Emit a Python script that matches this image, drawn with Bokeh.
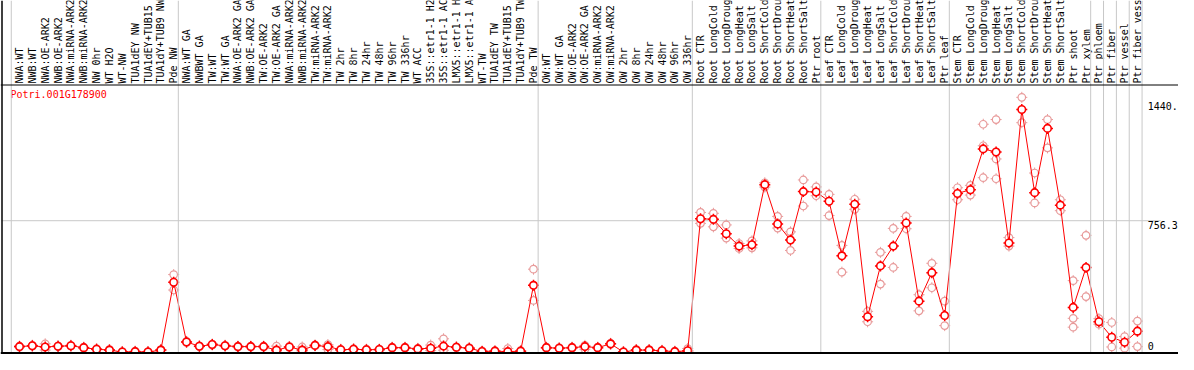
import math
from bokeh.plotting import figure
from bokeh.models import Range1d, Span
from bokeh.embed import file_html
from bokeh.resources import INLINE
from bokeh.core.properties import value

# ---------------- data ----------------
gene = "Potri.001G178900"

labels = [
    # group 1
    "NWA:WT", "NWB:WT", "NWA:OE-ARK2", "NWB:OE-ARK2", "NWA:miRNA-ARK2", "NWB:miRNA-ARK2",
    "NW 0hr", "WT H2O", "WT-NW", "TUA1dEY NW", "TUA1dEY+TUB15", "TUA1dY+TUB9 NW", "Pde NW",
    # group 2
    "NWA:WT GA", "NWBWT GA", "TW:WT", "TW:WT GA", "NWA:OE-ARK2 GA", "NWB:OE-ARK2 GA",
    "TW:OE-ARK2", "TW:OE-ARK2 GA", "NWA:miRNA-ARK2", "NWB:miRNA-ARK2", "TW:miRNA-ARK2",
    "TW:miRNA-ARK2", "TW 2hr", "TW 8hr", "TW 24hr", "TW 48hr", "TW 96hr", "TW 336hr",
    "WT ACC", "35S::etr1-1 H2", "35S::etr1-1 AC", "LMX5::etr1-1 H", "LMX5::etr1-1 A",
    "WT-TW", "TUA1dEY TW", "TUA1dEY+TUB15", "TUA1dY+TUB9 TW", "Pde TW",
    # group 3
    "OW:WT", "OW:WT GA", "OW:OE-ARK2", "OW:OE-ARK2 GA", "OW:miRNA-ARK2", "OW:miRNA-ARK2",
    "OW 2hr", "OW 8hr", "OW 24hr", "OW 48hr", "OW 96hr", "OW 336hr",
    # root
    "Root CTR", "Root LongCold", "Root LongDroug", "Root LongHeat", "Root LongSalt",
    "Root ShortCold", "Root ShortDrou", "Root ShortHeat", "Root ShortSalt", "Ptr root",
    # leaf
    "Leaf CTR", "Leaf LongCold", "Leaf LongDroug", "Leaf LongHeat", "Leaf LongSalt",
    "Leaf ShortCold", "Leaf ShortDrou", "Leaf ShortHeat", "Leaf ShortSalt", "Ptr leaf",
    # stem
    "Stem CTR", "Stem LongCold", "Stem LongDroug", "Stem LongHeat", "Stem LongSalt",
    "Stem ShortCold", "Stem ShortDrou", "Stem ShortHeat", "Stem ShortSalt", "Ptr shoot", "Ptr xylem",
    # single tissues
    "Ptr phloem", "Ptr fiber", "Ptr vessel", "Ptr fiber vess",
]

group_starts = [0, 13, 41, 53, 63, 73, 84, 85, 86, 87]

means = [
    31, 36, 29, 33, 36, 25, 16, 11, 0, 2, 0, 11, 402,
    58, 33, 43, 36, 31, 31, 31, 11, 29, 11, 38, 31, 13, 16, 13, 14, 25, 25, 18, 22, 34, 27, 22, 3, 5, 2, 5, 384,
    25, 22, 25, 31, 25, 47, 0, 11, 11, 7, 2, 7,
    768, 764, 681, 610, 618, 964, 737, 645, 924, 922,
    868, 554, 851, 203, 496, 610, 743, 293, 457, 210,
    913, 935, 1170, 1152, 628, 1397, 918, 1288, 846, 257, 487,
    174, 85, 56, 120,
]

rep_high = [
    34, 39, 47, 36, 39, 28, 19, 14, 3, 5, 3, 14, 446,
    61, 36, 46, 39, 34, 34, 34, 34, 32, 29, 41, 43, 16, 19, 16, 17, 28, 28, 21, 40, 76, 30, 25, 6, 8, 20, 8, 477,
    28, 25, 28, 38, 28, 50, 3, 14, 14, 10, 5, 20,
    804, 799, 732, 625, 640, 975, 781, 692, 991, 951,
    908, 614, 880, 234, 574, 712, 781, 330, 511, 293,
    946, 960, 1312, 1339, 659, 1467, 1031, 1339, 877, 411, 672,
    192, 170, 89, 178,
]

rep_low = [
    28, 33, 11, 30, 33, 22, 13, 8, 0, 0, 0, 8, 357,
    55, 30, 40, 33, 28, 28, 28, 5, 26, 5, 35, 14, 10, 13, 10, 11, 22, 22, 15, 8, 10, 24, 19, 0, 2, 0, 2, 297,
    22, 19, 22, 16, 22, 44, 0, 8, 8, 4, 0, 3,
    741, 721, 656, 596, 600, 950, 714, 585, 841, 900,
    786, 460, 822, 174, 391, 487, 710, 237, 370, 152,
    877, 904, 1004, 998, 610, 1321, 859, 1176, 814, 143, 319,
    160, 29, 22, 31,
]

extra_rep_idx = [75, 76, 82]
extra_rep_val = [1188, 1112, 194]

tick_values = [1440, 756.3]
tick_labels = ["1440.", "756.3"]
zero_value = [0]
zero_label = ["0"]

# ---------------- layout ----------------
W, H = 1178, 354
X0_PX, STEP_PX = 19.0, 12.85      # canvas x of first category, px per category
ZERO_PX, UNIT_PX = 351.5, 0.1736  # canvas y of value 0, px per expression unit
LABEL_LINE_PX = 84.5
LABEL_START_PX = 83.0


def dx(px):
    return (px - X0_PX) / STEP_PX


def dy(py):
    return (ZERO_PX - py) / UNIT_PX


RED = "#ff0000"
PINK = "#e89a9a"
GRID = "#c8c8c8"
FONT = value("DejaVu Sans Mono")

p = figure(
    width=W, height=H,
    x_range=Range1d(dx(0), dx(W)), y_range=Range1d(dy(H), dy(0)),
    output_backend="svg", toolbar_location=None,
    x_axis_location=None, y_axis_location=None,
    min_border=0, outline_line_color=None,
    background_fill_color="white", border_fill_color="white",
)
p.xgrid.visible = False
p.ygrid.visible = False

n = len(labels)
idx = list(range(n))

# group separators (grey)
for g in group_starts:
    p.add_layout(Span(location=g - 0.64, dimension="height", line_color=GRID, line_width=1))
p.add_layout(Span(location=(n - 1) + 0.36, dimension="height", line_color=GRID, line_width=1))

# horizontal grid at middle tick
p.segment(x0=[dx(1)], y0=[tick_values[1]], x1=[dx(1160)], y1=[tick_values[1]],
          line_color=GRID, line_width=1)

# black frame lines
p.add_layout(Span(location=dx(1.5), dimension="height", line_color="black", line_width=1.5))
p.add_layout(Span(location=dy(LABEL_LINE_PX), dimension="width", line_color="black", line_width=1))
p.add_layout(Span(location=dy(352.5), dimension="width", line_color="black", line_width=2))

# category labels (rotated)
p.text(x=idx, y=[dy(LABEL_START_PX)] * n, text=labels, angle=math.pi / 2,
       text_align="left", text_baseline="middle", text_font=FONT,
       text_font_size="10px", text_color="black")

# gene title
p.text(x=[dx(10)], y=[dy(88)], text=[gene], text_align="left", text_baseline="top",
       text_font=FONT, text_font_size="10px", text_color=RED)

# right-hand value labels
p.text(x=[87.8] * len(tick_values), y=tick_values, text=tick_labels, text_align="left",
       text_baseline="top", text_font=FONT, text_font_size="10px", text_color="black")
p.text(x=[87.8], y=zero_value, text=zero_label, text_align="left", text_baseline="bottom",
       y_offset=-2, text_font=FONT, text_font_size="10px", text_color="black")

# replicates
rx = idx + idx + extra_rep_idx
ry = rep_high + rep_low + extra_rep_val
p.scatter(x=rx, y=ry, marker="cross", size=11, line_color=PINK, line_width=1)
p.scatter(x=rx, y=ry, marker="circle", size=7.5, fill_color="white", line_color=PINK, line_width=1.2)

# mean line + markers
p.line(x=idx, y=means, line_color=RED, line_width=1)
p.scatter(x=idx, y=means, marker="cross", size=11, line_color=RED, line_width=1.5)
p.scatter(x=idx, y=means, marker="circle", size=7.5, fill_color="white", line_color=RED, line_width=1.6)

open("out.html", "w").write(file_html(p, INLINE))
